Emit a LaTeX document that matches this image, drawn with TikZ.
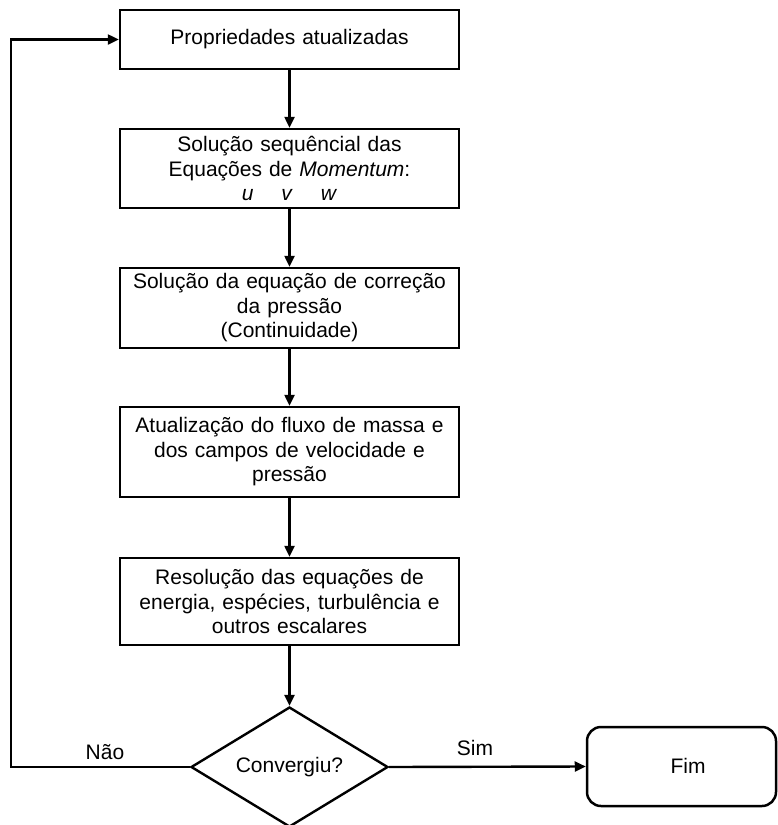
\documentclass[tikz,border=0pt]{standalone}
\usepackage{fontspec}
\setmainfont{Liberation Sans}
\usetikzlibrary{arrows.meta,shapes.geometric}
\begin{document}
\begin{tikzpicture}[x=1pt,y=-1pt,
  font=\fontsize{21}{24.5}\selectfont,
  stepbox/.style={draw, line width=2.5pt, minimum width=339pt, inner sep=0pt, align=center, text width=330pt},
  flow/.style={line width=2.4pt, -{Triangle[length=11pt,width=10pt]}},
  decision/.style={draw, diamond, line width=2.4pt, aspect=1.64, minimum width=197pt, minimum height=120pt, inner sep=0pt},
  endbox/.style={draw, rounded corners=14pt, line width=2.5pt, minimum width=189pt, minimum height=79pt, inner sep=0pt}]
\useasboundingbox (0,0) rectangle (777,825);
\node[stepbox, minimum height=59pt] (b1) at (289.5,39.5) {Propriedades atualizadas};
\node[stepbox, minimum height=79pt] (b2) at (289.5,168.5) {Solução sequêncial das\\Equações de \textit{Momentum}:\\\textit{u}\hspace{28pt}\textit{v}\hspace{28pt}\textit{w}};
\node[stepbox, minimum height=80pt] (b3) at (289.5,308) {Solução da equação de correção\\da pressão\\(Continuidade)};
\node[stepbox, minimum height=90pt] (b4) at (289.5,452) {Atualização do fluxo de massa e\\dos campos de velocidade e\\pressão};
\node[stepbox, minimum height=87pt] (b5) at (289.5,601.5) {Resolução das equações de\\energia, espécies, turbulência e\\outros escalares};
\node[decision] (d) at (289.5,767) {Convergiu?};
\node[endbox] (fim) at (681.5,766.5) {};
\node (fimtext) at (688,766) {Fim};
\coordinate (c1) at (11,767);
\coordinate (c2) at (11,39.5);
\draw[flow] (b1) -- (b2);
\draw[flow] (b2) -- (b3);
\draw[flow] (b3) -- (b4);
\draw[flow] (b4) -- (b5);
\draw[flow] (b5) -- (d);
\draw[flow] (d.east) -- (fim.west);
\draw[flow] (d.west) -- (c1) -- (c2) -- (b1.west);
\node (nao) at (105,752) {Não};
\node (sim) at (475,748) {Sim};
\end{tikzpicture}
\end{document}
